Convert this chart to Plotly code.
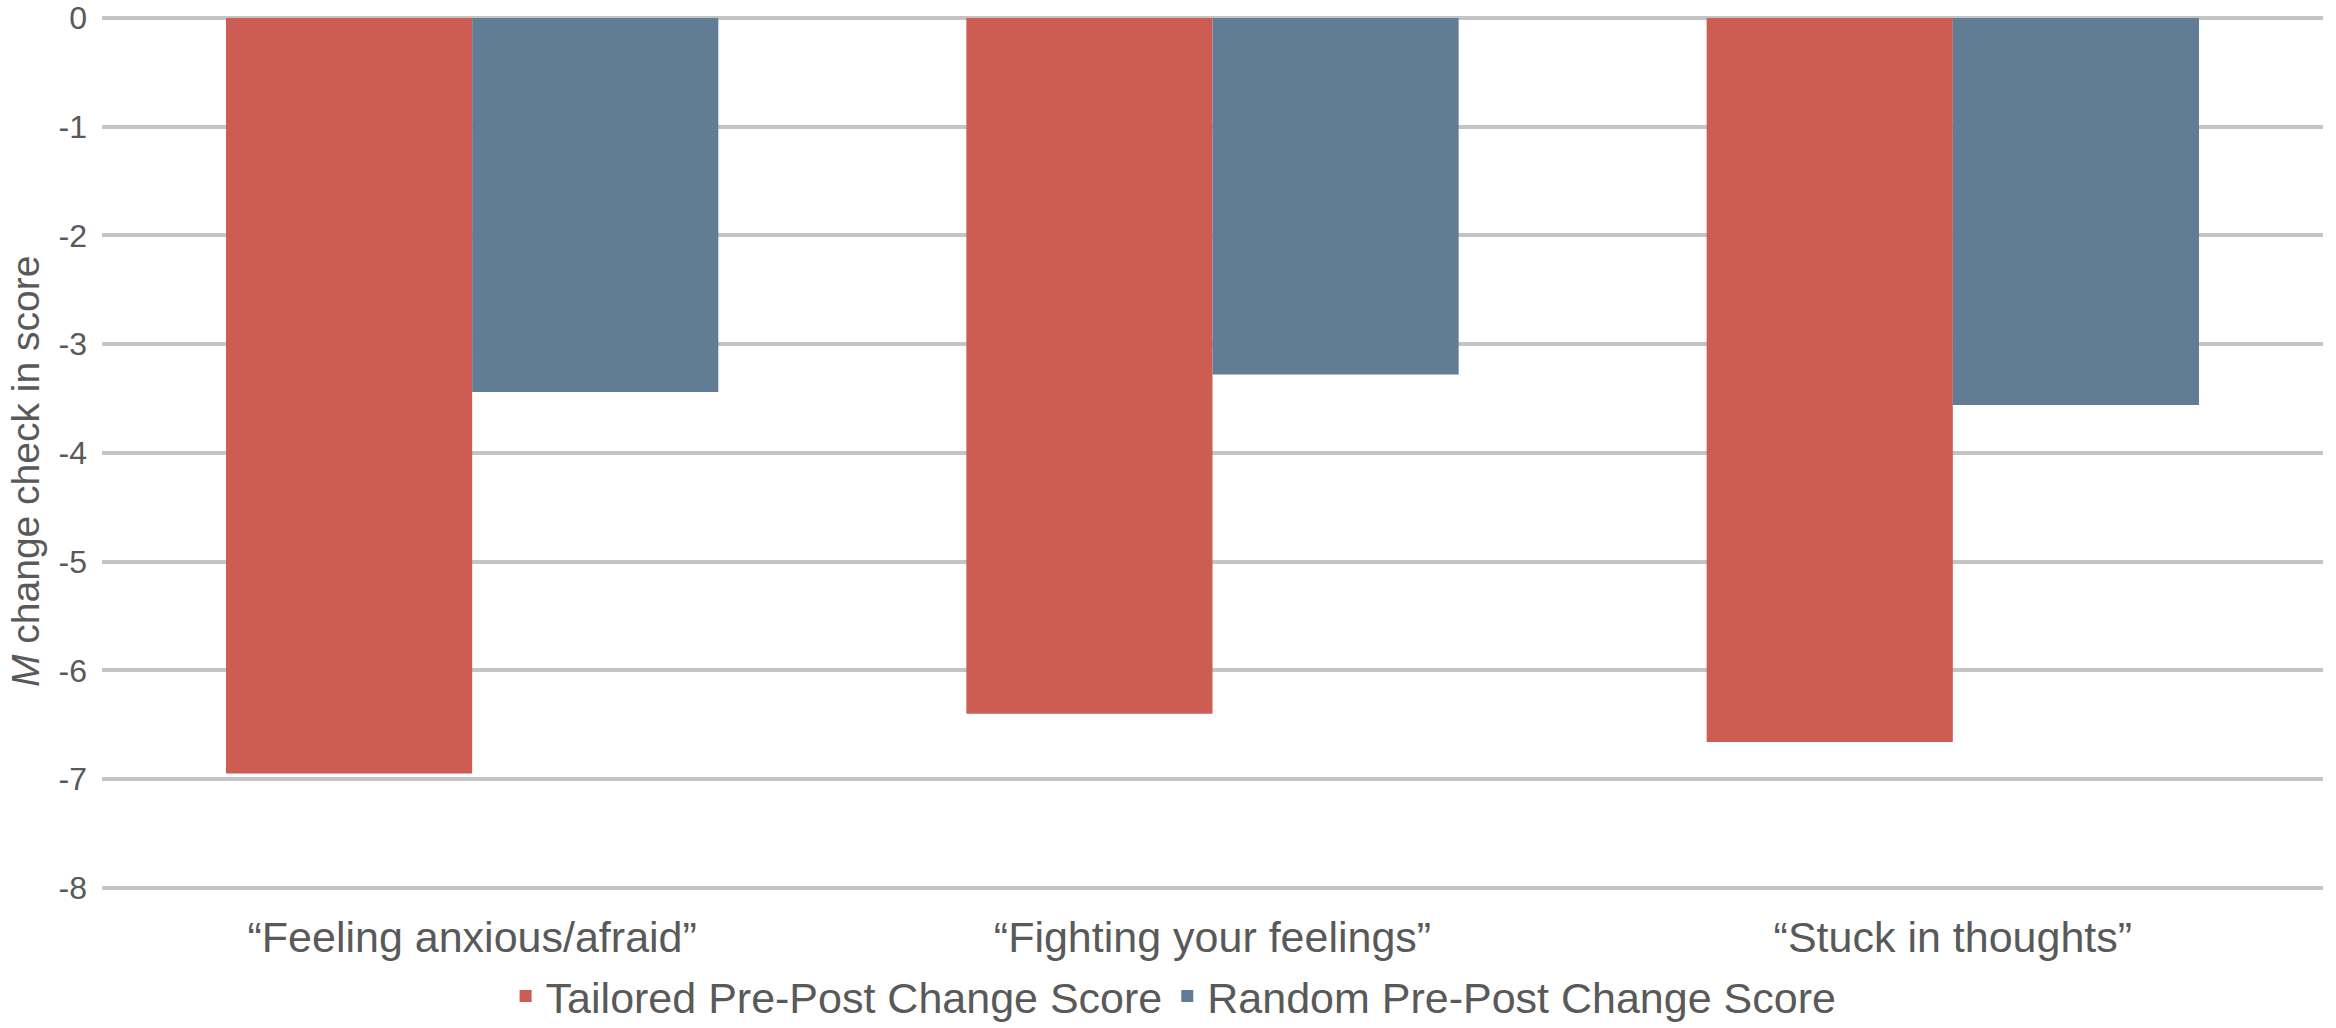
import plotly.graph_objects as go

categories = ["\u201cFeeling anxious/afraid\u201d", "\u201cFighting your feelings\u201d", "\u201cStuck in thoughts\u201d"]
tailored = [-6.95, -6.40, -6.66]
random_scores = [-3.44, -3.28, -3.56]
y_ticks = [0, -1, -2, -3, -4, -5, -6, -7, -8]

RED = "#CD5C52"
BLUE = "#607D95"
GRID = "#C4C4C4"
TEXT = "#595959"
FONT = "Liberation Sans, Arial, sans-serif"

fig = go.Figure()
fig.add_trace(go.Bar(x=categories, y=tailored, name="Tailored Pre-Post Change Score",
                     marker=dict(color=RED, line=dict(width=0))))
fig.add_trace(go.Bar(x=categories, y=random_scores, name="Random Pre-Post Change Score",
                     marker=dict(color=BLUE, line=dict(width=0))))

# vertical axis title, placed slightly below the plot's mid-height
fig.add_annotation(text="<i>M</i> change check in score", textangle=-90,
                   xref="paper", x=-0.0342, xanchor="center",
                   yref="paper", y=0.48, yanchor="middle",
                   showarrow=False, font=dict(size=39, color=TEXT))

fig.update_layout(
    width=2336, height=1028,
    margin=dict(l=102, r=13, t=18, b=137, autoexpand=False),
    paper_bgcolor="white", plot_bgcolor="white",
    barmode="group", bargap=0.335, bargroupgap=0,
    font=dict(family=FONT, color=TEXT),
    showlegend=True,
    legend=dict(orientation="h", xref="container", x=0.5024, xanchor="center",
                yref="container", y=0.031, yanchor="middle",
                font=dict(size=43, color=TEXT), traceorder="normal",
                itemwidth=30, bgcolor="rgba(0,0,0,0)"),
    xaxis=dict(showgrid=False, showline=False, ticks="", ticklabelstandoff=17,
               tickfont=dict(size=43, color=TEXT)),
    yaxis=dict(range=[-8.03, 0], tickvals=y_ticks, ticktext=[str(v) for v in y_ticks],
               showgrid=True, gridcolor=GRID, gridwidth=3.5,
               zeroline=True, zerolinecolor=GRID, zerolinewidth=3.5,
               showline=False, ticks="", ticklabelstandoff=14,
               tickfont=dict(size=32, color=TEXT)),
)

fig.write_html("out.html")
